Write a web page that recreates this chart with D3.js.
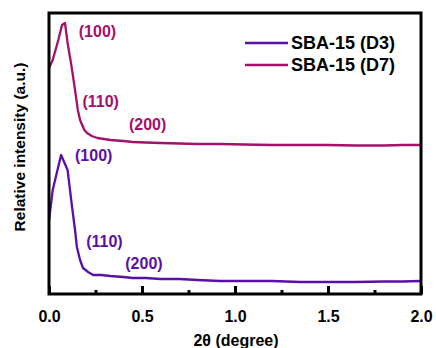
<!DOCTYPE html>
<html><head><meta charset="utf-8">
<script src="https://cdn.jsdelivr.net/npm/d3@7"></script>
<style>body{margin:0;background:#fff}svg{display:block}text{font-family:"Liberation Sans",Arial,sans-serif;font-weight:bold}</style>
</head><body>
<script>
const seriesNames = ["SBA-15 (D3)", "SBA-15 (D7)"];
const seriesColors = ["#5a10a8", "#a5106a"];
const d3x = [0.0,0.02,0.065,0.1,0.124,0.14,0.15,0.167,0.183,0.21,0.237,0.28,0.33,0.4,0.45,0.52,0.6,0.7,0.8,0.92,1.05,1.2,1.35,1.5,1.65,1.8,1.9,2.0];
const d3y = [74,104,139,124,87,64,47,34,26,22,19,19,18,17,16,16,15,15,14,13,13,13,12,12,12,12.5,12.5,13];
const d7x = [0.0,0.02,0.05,0.07,0.086,0.1,0.12,0.14,0.155,0.167,0.19,0.205,0.23,0.26,0.33,0.4,0.45,0.52,0.6,0.7,0.8,0.92,1.05,1.2,1.35,1.5,1.65,1.8,1.9,2.0];
const d7y = [226,234,254,269,271,251,229,204,184,174,164,161,158,156,154,153,152,151.5,151,150.5,150,150,149.5,149,149,149,148.5,148.5,149,149];
const xTicks = [0, 0.5, 1.0, 1.5, 2.0];
const xMinor = [0.25, 0.75, 1.25, 1.75];
const peakLabels = ["(100)", "(110)", "(200)"];
const d3LabelPos = [[0.14,139],[0.2,53],[0.41,31]];
const d7LabelPos = [[0.16,263],[0.18,193],[0.43,170]];

const W=436,H=348, m={l:49,t:13,r:15,b:54};
const svg=d3.select("body").append("svg").attr("width",W).attr("height",H);
const x=d3.scaleLinear().domain([0,2]).range([m.l,W-m.r]);
const y=d3.scaleLinear().domain([0,281]).range([H-m.b,m.t]);
const line=d3.line().x(d=>x(d[0])).y(d=>y(d[1]));
const data=[d3.zip(d3x,d3y), d3.zip(d7x,d7y)];

const g=svg.append("g");
data.forEach((d,i)=>{
  g.append("path").datum(d).attr("d",line).attr("fill","none")
   .attr("stroke",seriesColors[i]).attr("stroke-width",2.3).attr("stroke-linejoin","round");
});
[d3LabelPos,d7LabelPos].forEach((pos,i)=>{
  pos.forEach((p,j)=>{
    svg.append("text").attr("x",x(p[0])).attr("y",y(p[1])).attr("dy","0.35em")
      .attr("font-size",16).attr("fill",seriesColors[i]).text(peakLabels[j]);
  });
});
svg.append("rect").attr("x",m.l).attr("y",m.t).attr("width",W-m.r-m.l).attr("height",H-m.b-m.t)
  .attr("fill","none").attr("stroke","#000").attr("stroke-width",3);
const ax=svg.append("g").attr("transform",`translate(0,${H-m.b})`)
  .call(d3.axisBottom(x).tickValues(xTicks).tickFormat(d3.format(".1f")).tickSizeInner(-8).tickSizeOuter(0).tickPadding(17));
ax.select(".domain").remove();
ax.selectAll(".tick line").attr("stroke","#000").attr("stroke-width",3);
ax.selectAll(".tick text").attr("font-size",16).attr("fill","#000").attr("font-family","Liberation Sans, Arial, sans-serif");
const axm=svg.append("g").attr("transform",`translate(0,${H-m.b})`)
  .call(d3.axisBottom(x).tickValues(xMinor).tickFormat("").tickSizeInner(-4).tickSizeOuter(0));
axm.select(".domain").remove();
axm.selectAll(".tick line").attr("stroke","#000").attr("stroke-width",3);
svg.append("text").attr("x",236).attr("y",346).attr("text-anchor","middle").attr("font-size",16).text("2θ (degree)");
svg.append("text").attr("transform","translate(25,147) rotate(-90)").attr("text-anchor","middle").attr("font-size",15.5).text("Relative intensity (a.u.)");
seriesNames.forEach((n,i)=>{
  const ly=43+i*22;
  svg.append("line").attr("x1",245).attr("x2",288).attr("y1",ly).attr("y2",ly).attr("stroke",seriesColors[i]).attr("stroke-width",2.5);
  svg.append("text").attr("x",291).attr("y",ly).attr("dy","0.36em").attr("font-size",18).text(n);
});
</script>
</body></html>
